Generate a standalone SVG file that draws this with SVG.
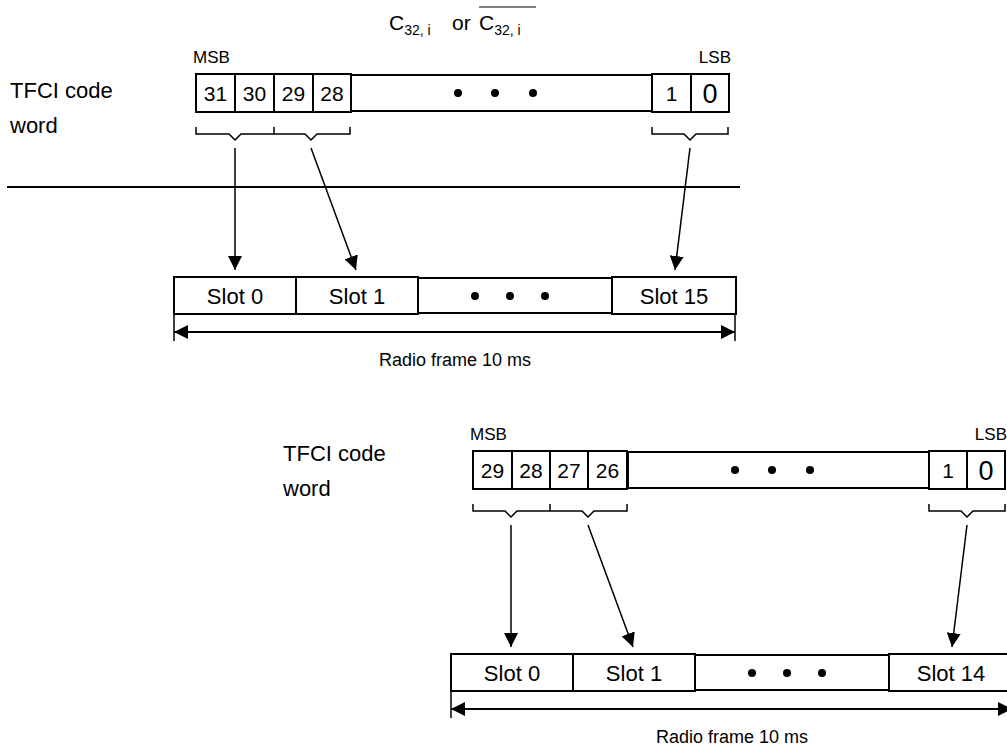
<svg xmlns="http://www.w3.org/2000/svg" width="1007" height="755" viewBox="0 0 1007 755">
<defs>
<style>
.t{font-family:"Liberation Sans",Arial,sans-serif;fill:#000}
.box{fill:#fff;stroke:#000;stroke-width:2}
.ln{fill:none;stroke:#000;stroke-width:2}
.thin{fill:none;stroke:#000;stroke-width:1.5}
</style>
<marker id="ah2" viewBox="0 0 10 10" refX="10" refY="5" markerWidth="14" markerHeight="14" markerUnits="userSpaceOnUse" orient="auto-start-reverse"><path d="M0,0L10,5L0,10z" fill="#000"/></marker>
<marker id="ahv" viewBox="0 0 10 10" refX="10" refY="5" markerWidth="14" markerHeight="14" markerUnits="userSpaceOnUse" orient="auto"><path d="M0,0L10,5L0,10z" fill="#000"/></marker>
</defs>
<rect width="1007" height="755" fill="#fff"/>

<g id="title">
<text class="t" x="389" y="30" font-size="21">C<tspan font-size="14" dy="5">32, i</tspan></text>
<text class="t" x="452" y="30" font-size="21">or</text>
<text class="t" x="479" y="30" font-size="21">C<tspan font-size="14" dy="5">32, i</tspan></text>
<line x1="479" y1="7" x2="536" y2="7" stroke="#000" stroke-width="1"/>
</g>

<g id="top-codeword">
<text class="t" x="193" y="63" font-size="17">MSB</text>
<text class="t" x="731" y="63" font-size="17" text-anchor="end">LSB</text>
<text class="t" x="10" y="98" font-size="22">TFCI code</text>
<text class="t" x="10" y="133" font-size="22">word</text>
<rect class="box" x="351" y="75" width="301" height="36"/>
<rect class="box" x="196" y="74" width="39" height="38"/>
<rect class="box" x="235" y="74" width="39" height="38"/>
<rect class="box" x="274" y="74" width="39" height="38"/>
<rect class="box" x="313" y="74" width="38" height="38"/>
<rect class="box" x="652" y="74" width="39" height="38"/>
<rect class="box" x="691" y="74" width="38" height="38"/>
<text class="t" x="215.5" y="101" font-size="21" text-anchor="middle">31</text>
<text class="t" x="254.5" y="101" font-size="21" text-anchor="middle">30</text>
<text class="t" x="293.5" y="101" font-size="21" text-anchor="middle">29</text>
<text class="t" x="332" y="101" font-size="21" text-anchor="middle">28</text>
<text class="t" x="671.5" y="101" font-size="21" text-anchor="middle">1</text>
<text class="t" x="710" y="103" font-size="27" text-anchor="middle">0</text>
<circle cx="458" cy="93" r="4"/>
<circle cx="495" cy="93" r="4"/>
<circle cx="533" cy="93" r="4"/>
<path class="thin" d="M196,127V134H229L235,140L241,134H274V127M274,134H305L311,140L317,134H350V127M652,127V134H684L690,140L696,134H728V127"/>
</g>

<g id="divider">
<line x1="7" y1="187" x2="740" y2="187" stroke="#000" stroke-width="2"/>
</g>

<g id="top-frame">
<rect class="box" x="174" y="277" width="122" height="37"/>
<rect class="box" x="296" y="277" width="122" height="37"/>
<rect class="box" x="418" y="278" width="194" height="35"/>
<rect class="box" x="612" y="277" width="124" height="37"/>
<text class="t" x="235" y="304" font-size="22" text-anchor="middle">Slot 0</text>
<text class="t" x="357" y="304" font-size="22" text-anchor="middle">Slot 1</text>
<text class="t" x="674" y="304" font-size="22" text-anchor="middle">Slot 15</text>
<circle cx="475" cy="296" r="4"/>
<circle cx="510" cy="296" r="4"/>
<circle cx="545" cy="296" r="4"/>
<line class="thin" x1="174" y1="314" x2="174" y2="341"/>
<line class="thin" x1="735" y1="314" x2="735" y2="341"/>
<text class="t" x="455" y="366" font-size="18" text-anchor="middle">Radio frame 10 ms</text>
</g>

<g id="bottom-codeword">
<text class="t" x="470" y="440" font-size="17">MSB</text>
<text class="t" x="1007" y="440" font-size="17" text-anchor="end">LSB</text>
<text class="t" x="283" y="461" font-size="22">TFCI code</text>
<text class="t" x="283" y="496" font-size="22">word</text>
<rect class="box" x="628" y="452" width="301" height="36"/>
<rect class="box" x="473" y="451" width="39" height="38"/>
<rect class="box" x="512" y="451" width="38" height="38"/>
<rect class="box" x="550" y="451" width="38" height="38"/>
<rect class="box" x="588" y="451" width="39" height="38"/>
<rect class="box" x="929" y="451" width="38" height="38"/>
<rect class="box" x="967" y="451" width="38" height="38"/>
<text class="t" x="492.5" y="478" font-size="21" text-anchor="middle">29</text>
<text class="t" x="531" y="478" font-size="21" text-anchor="middle">28</text>
<text class="t" x="569" y="478" font-size="21" text-anchor="middle">27</text>
<text class="t" x="607.5" y="478" font-size="21" text-anchor="middle">26</text>
<text class="t" x="948" y="478" font-size="21" text-anchor="middle">1</text>
<text class="t" x="986" y="480" font-size="27" text-anchor="middle">0</text>
<circle cx="735" cy="470" r="4"/>
<circle cx="772" cy="470" r="4"/>
<circle cx="810" cy="470" r="4"/>
<path class="thin" d="M473,504V511H505L511,517L517,511H550V504M550,511H582L588,517L594,511H627V504M929,504V511H961L967,517L973,511H1005V504"/>
</g>

<g id="bottom-frame">
<rect class="box" x="451" y="654" width="122" height="37"/>
<rect class="box" x="573" y="654" width="122" height="37"/>
<rect class="box" x="695" y="655" width="194" height="35"/>
<rect class="box" x="889" y="654" width="124" height="37"/>
<text class="t" x="512" y="681" font-size="22" text-anchor="middle">Slot 0</text>
<text class="t" x="634" y="681" font-size="22" text-anchor="middle">Slot 1</text>
<text class="t" x="951" y="681" font-size="22" text-anchor="middle">Slot 14</text>
<circle cx="752" cy="673" r="4"/>
<circle cx="787" cy="673" r="4"/>
<circle cx="822" cy="673" r="4"/>
<line class="thin" x1="451" y1="691" x2="451" y2="718"/>
<text class="t" x="732" y="743" font-size="18" text-anchor="middle">Radio frame 10 ms</text>
</g>

<g id="connectors">
<line class="thin" x1="235" y1="148" x2="235" y2="270" marker-end="url(#ahv)"/>
<line class="thin" x1="311" y1="148" x2="356" y2="270" marker-end="url(#ahv)"/>
<line class="thin" x1="690" y1="148" x2="675" y2="270" marker-end="url(#ahv)"/>
<line class="ln" x1="174" y1="332" x2="735" y2="332" marker-start="url(#ah2)" marker-end="url(#ah2)"/>
<line class="thin" x1="511" y1="525" x2="511" y2="647" marker-end="url(#ahv)"/>
<line class="thin" x1="588" y1="525" x2="633" y2="647" marker-end="url(#ahv)"/>
<line class="thin" x1="967" y1="525" x2="952" y2="647" marker-end="url(#ahv)"/>
<line class="ln" x1="451" y1="709" x2="1012" y2="709" marker-start="url(#ah2)" marker-end="url(#ah2)"/>
</g>
</svg>
